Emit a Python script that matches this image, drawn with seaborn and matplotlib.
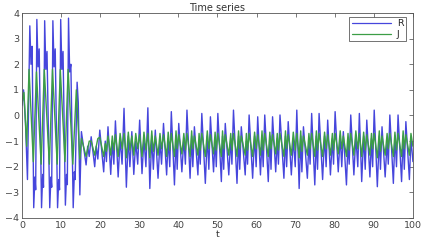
import matplotlib
matplotlib.use("Agg")
import matplotlib.pyplot as plt
import seaborn as sns
import pandas as pd

# ---- early (large-amplitude) phase ----
r_early_t = [0.0, 0.4, 0.9, 1.4, 2.0, 2.3, 2.6, 3.0, 3.3, 3.5, 3.8, 4.1, 4.4, 5.0, 5.3, 5.5,
             5.8, 6.1, 6.4, 7.1, 7.4, 7.6, 7.9, 8.2, 8.5, 9.1, 9.4, 9.6, 9.9, 10.2, 10.5,
             11.1, 11.4, 11.6, 11.9, 12.2, 12.5, 13.1, 13.4, 13.6, 14.1, 14.4, 14.8]
r_early_v = [0.4, 1.0, -0.3, -2.5, 3.5, 2.0, 2.7, -3.6, -2.4, -2.9, 3.75, 1.9, 2.6, -3.6, -2.3, -2.8,
             3.7, 1.8, 2.5, -3.6, -2.4, -2.8, 3.7, 1.9, 2.6, -3.6, -2.5, -2.9, 3.75, 1.8, 2.5,
             -3.5, -2.3, -2.7, 3.8, 1.7, 2.0, -3.6, -2.2, -2.5, 1.3, 0.5, -3.1]

j_early_t = [0.0, 0.5, 1.2, 1.8, 2.9, 3.7, 4.9, 5.7, 7.0, 7.8, 9.0, 9.8, 11.0, 11.8,
             13.0, 13.9, 14.8]
j_early_v = [0.5, 0.9, -1.2, 1.8, -1.8, 1.7, -1.9, 1.8, -1.9, 1.8, -1.9, 1.8, -1.8, 1.8,
             -1.9, 1.0, -1.7]

# ---- settled phase: per cycle peak, trough, shoulder, dip ----
steady_t = [
    15.2, 16.4, 16.8, 17.2,  17.7, 18.6, 19.0, 19.4,  19.9, 20.9, 21.3, 21.6,
    22.0, 22.7, 23.1, 23.5,  23.9, 24.6, 25.1, 25.6,  26.1, 26.7, 27.2, 27.6,
    28.1, 28.6, 29.1, 29.6,  30.1, 30.7, 31.2, 31.7,  32.2, 32.7, 33.2, 33.6,
    34.1, 34.8, 35.3, 35.7,  36.2, 37.0, 37.4, 37.8,  38.2, 39.0, 39.4, 39.7,
    40.1, 40.9, 41.4, 41.8,  42.2, 43.0, 43.4, 43.7,  44.1, 45.0, 45.3, 45.6,
    46.0, 46.9, 47.4, 47.8,  48.2, 49.0, 49.4, 49.7,  50.1, 51.0, 51.3, 51.6,
    52.0, 52.9, 53.4, 53.7,  54.1, 55.0, 55.4, 55.7,  56.1, 57.1, 57.4, 57.7,
    58.1, 59.0, 59.5, 59.9,  60.3, 61.0, 61.4, 61.7,  62.1, 63.0, 63.4, 63.7,
    64.1, 64.9, 65.3, 65.6,  66.0, 67.0, 67.4, 67.7,  68.1, 68.9, 69.4, 69.9,
    70.3, 70.9, 71.3, 71.6,  72.0, 73.0, 73.4, 73.7,  74.1, 74.9, 75.3, 75.6,
    76.0, 76.9, 77.4, 77.8,  78.2, 78.9, 79.4, 79.7,  80.1, 80.9, 81.4, 81.8,
    82.2, 83.0, 83.4, 83.7,  84.1, 84.9, 85.4, 85.9,  86.3, 86.9, 87.4, 87.8,
    88.2, 89.0, 89.4, 89.7,  90.1, 90.9, 91.4, 91.7,  92.1, 92.9, 93.4, 93.7,
    94.1, 95.0, 95.4, 95.8,  96.2, 97.1, 97.5, 97.8,  98.2, 99.1, 99.5, 100.0]

r_steady_v = [
    -0.63, -1.93, -1.2, -1.6,  -0.83, -2.0, -1.2, -1.7,  -0.57, -2.2, -1.0, -1.8,
    -0.44, -2.3, -1.0, -1.9,   -0.21, -2.4, -0.9, -1.9,   0.28, -2.8, -0.8, -2.0,
    -0.63, -2.3, -1.0, -1.9,   -0.18, -2.27, -0.9, -2.0,  0.30, -2.85, -0.8, -2.1,
    -0.57, -2.45, -1.0, -1.9,  -0.31, -2.32, -0.9, -2.0,  0.15, -2.71, -0.8, -2.1,
    -0.31, -2.2, -0.9, -1.9,    0.21, -2.45, -0.8, -2.0,  -0.44, -2.32, -1.0, -1.9,
    0.08, -2.65, -0.8, -2.1,   -0.05, -2.2, -0.9, -2.0,    0.08, -2.58, -0.8, -2.1,
    -0.31, -2.32, -0.9, -1.9,   0.21, -2.65, -0.8, -2.1,  -0.44, -2.32, -1.0, -1.9,
    0.02, -2.45, -0.8, -2.0,   -0.05, -2.32, -0.9, -2.0,   0.02, -2.58, -0.8, -2.1,
    -0.05, -2.2, -0.9, -1.9,    0.02, -2.45, -0.8, -2.0,  -0.24, -2.32, -0.9, -2.0,
    0.21, -2.85, -0.8, -2.2,   -0.44, -2.45, -1.0, -1.9,   0.08, -2.71, -0.8, -2.1,
    0.08, -2.5, -0.8, -2.0,    -0.18, -2.32, -0.9, -1.9,   0.15, -2.2, -0.8, -2.0,
    -0.63, -2.71, -1.0, -1.9,   0.02, -2.32, -0.8, -2.0,   0.08, -2.58, -0.8, -2.1,
    -0.18, -2.4, -0.9, -2.0,    0.21, -2.78, -0.8, -2.1,  -0.44, -2.4, -1.0, -1.9,
    0.02, -2.65, -0.8, -2.0,    0.02, -2.58, -0.8, -2.1,  -0.24, -2.5, -0.9, -1.8]

j_steady_v = [
    -0.9, -1.6, -1.3, -1.0,    -1.0, -1.55, -1.2, -0.9,  -0.85, -1.6, -1.1, -1.4,
    -0.8, -1.55, -0.8, -1.35,  -0.75, -1.6, -0.7, -1.3,  -0.7, -1.65, -0.65, -1.35,
    -0.8, -1.55, -0.7, -1.3,   -0.75, -1.6, -0.65, -1.35, -0.7, -1.65, -0.6, -1.4,
    -0.8, -1.55, -0.7, -1.3,   -0.75, -1.6, -0.65, -1.35, -0.7, -1.6, -0.6, -1.3,
    -0.75, -1.5, -0.7, -1.35,  -0.7, -1.6, -0.6, -1.3,   -0.8, -1.55, -0.7, -1.35,
    -0.7, -1.6, -0.6, -1.3,    -0.75, -1.5, -0.65, -1.35, -0.7, -1.6, -0.6, -1.3,
    -0.75, -1.55, -0.7, -1.35, -0.7, -1.6, -0.6, -1.3,   -0.8, -1.55, -0.7, -1.35,
    -0.7, -1.6, -0.65, -1.3,   -0.75, -1.55, -0.6, -1.35, -0.7, -1.6, -0.65, -1.3,
    -0.75, -1.5, -0.7, -1.35,  -0.7, -1.6, -0.6, -1.3,   -0.75, -1.55, -0.65, -1.35,
    -0.7, -1.65, -0.6, -1.4,   -0.8, -1.55, -0.7, -1.3,  -0.7, -1.6, -0.6, -1.35,
    -0.7, -1.6, -0.65, -1.3,   -0.75, -1.55, -0.7, -1.35, -0.7, -1.5, -0.6, -1.3,
    -0.8, -1.6, -0.7, -1.35,   -0.7, -1.55, -0.6, -1.3,  -0.7, -1.6, -0.65, -1.35,
    -0.75, -1.55, -0.7, -1.3,  -0.7, -1.65, -0.6, -1.4,  -0.8, -1.55, -0.7, -1.3,
    -0.7, -1.6, -0.65, -1.35,  -0.7, -1.6, -0.6, -1.3,   -0.75, -1.55, -0.7, -1.2]

series_names = ["R", "J"]
x_ticks = [0, 10, 20, 30, 40, 50, 60, 70, 80, 90, 100]
y_ticks = [-4, -3, -2, -1, 0, 1, 2, 3, 4]

df = pd.concat([
    pd.DataFrame({"t": r_early_t + steady_t, "value": r_early_v + r_steady_v, "series": "R"}),
    pd.DataFrame({"t": j_early_t + steady_t, "value": j_early_v + j_steady_v, "series": "J"}),
], ignore_index=True)

sns.set_style("white")
plt.rcParams["font.family"] = ["DejaVu Sans"]

fig = plt.figure(figsize=(4.27, 2.46), dpi=100)
ax = fig.add_axes([0.0515, 0.114, 0.9155, 0.833])

sns.lineplot(data=df, x="t", y="value", hue="series", hue_order=series_names,
             palette={"R": "#4646dc", "J": "#3c9e46"}, sort=False,
             estimator=None, linewidth=1.0, ax=ax)

ax.set_xlim(0, 100)
ax.set_ylim(-4, 4)
ax.set_xticks(x_ticks)
ax.set_yticks(y_ticks)
ax.tick_params(direction="in", length=3, width=0.5, labelsize=6.8, colors="#444444",
               top=True, right=True, pad=2)
for s in ax.spines.values():
    s.set_linewidth(0.6)
    s.set_color("#555555")
ax.set_title("Time series", fontsize=7, pad=1.5, color="#333333")
ax.set_xlabel("t", fontsize=6.8, labelpad=0, color="#333333")
ax.set_ylabel("")

leg = ax.legend(loc="upper right", bbox_to_anchor=(0.982, 0.98), borderaxespad=0,
                fontsize=6.8, frameon=True, fancybox=False, edgecolor="#333333",
                handlelength=4.2, handletextpad=0.6, borderpad=0.25, labelspacing=0.15)
leg.get_frame().set_linewidth(0.6)
for h in leg.get_lines():
    h.set_linewidth(0.9)

fig.savefig("out.png", dpi=100)
